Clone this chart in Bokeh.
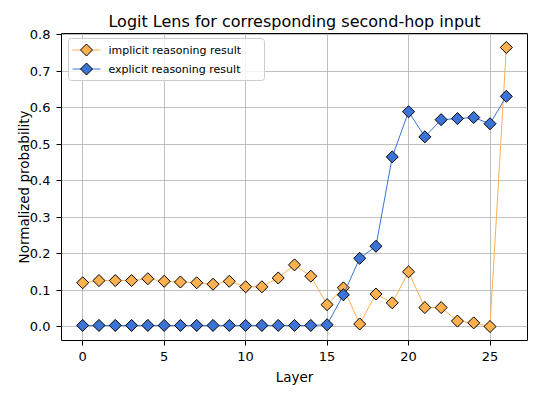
import math
from bokeh.plotting import figure
from bokeh.models import (FixedTicker, PrintfTickFormatter, Range1d, BoxAnnotation,
                          PolyAnnotation, Label)
from bokeh.embed import file_html
from bokeh.resources import INLINE

layers = list(range(27))
implicit = [0.120, 0.126, 0.126, 0.126, 0.131, 0.124, 0.122, 0.120, 0.116, 0.124,
            0.109, 0.109, 0.133, 0.169, 0.138, 0.060, 0.106, 0.007, 0.089, 0.065,
            0.150, 0.052, 0.052, 0.015, 0.010, 0.000, 0.765]
explicit = [0.003, 0.003, 0.003, 0.003, 0.003, 0.003, 0.003, 0.003, 0.003, 0.003,
            0.003, 0.003, 0.003, 0.003, 0.003, 0.005, 0.087, 0.187, 0.220, 0.465,
            0.589, 0.520, 0.567, 0.570, 0.573, 0.556, 0.631]
series_labels = ["implicit reasoning result", "explicit reasoning result"]
x_ticks = [0, 5, 10, 15, 20, 25]
y_ticks = [0.0, 0.1, 0.2, 0.3, 0.4, 0.5, 0.6, 0.7, 0.8]

ORANGE = "#ffb04f"
BLUE = "#3b73d6"
FONT = "DejaVu Sans"

p = figure(frame_width=466, frame_height=307, output_backend="svg", toolbar_location=None,
           x_range=Range1d(-1.3, 27.3), y_range=Range1d(-0.0383, 0.8033),
           min_border_left=61, min_border_right=9, min_border_top=33, min_border_bottom=10)

p.title.text = "Logit Lens for corresponding second-hop input"
p.title.align = "center"
p.title.text_font = FONT
p.title.text_font_size = "16px"
p.title.text_font_style = "normal"
p.title.text_color = "black"
p.title.offset = 0
p.title.standoff = 6

for ax in (p.xaxis, p.yaxis):
    ax.major_label_text_font = FONT
    ax.major_label_text_font_size = "13px"
    ax.major_label_text_color = "black"
    ax.axis_label_text_font = FONT
    ax.axis_label_text_font_size = "13.5px"
    ax.axis_label_text_font_style = "normal"
    ax.axis_label_text_color = "black"
    ax.axis_line_color = None
    ax.major_tick_line_color = "black"
    ax.major_tick_out = 5
    ax.major_tick_in = 0
    ax.minor_tick_line_color = None

p.xaxis.ticker = FixedTicker(ticks=x_ticks)
p.yaxis.ticker = FixedTicker(ticks=y_ticks)
p.yaxis.formatter = PrintfTickFormatter(format="%.1f")
p.xaxis.axis_label = "Layer"
p.yaxis.axis_label = "Normalized probability"
p.xaxis.major_label_standoff = 6
p.yaxis.major_label_standoff = 6
p.xaxis.axis_label_standoff = 5
p.yaxis.axis_label_standoff = -5

p.outline_line_color = "black"
p.outline_line_width = 1
p.grid.grid_line_color = "#b0b0b0"
p.grid.grid_line_width = 0.8

for vals, col in ((implicit, ORANGE), (explicit, BLUE)):
    p.line(layers, vals, line_color=col, line_width=1)
    p.scatter(layers, vals, marker="square", angle=math.pi / 4, size=8.5,
              fill_color=col, line_color="black", line_width=1)

# legend drawn with annotations in frame screen units (matplotlib-like diamond keys)
p.add_layout(BoxAnnotation(left=7, right=203, bottom=260, top=302,
                           left_units="screen", right_units="screen",
                           top_units="screen", bottom_units="screen",
                           fill_color="white", fill_alpha=0.8,
                           line_color="#cccccc", line_width=1, line_alpha=1,
                           border_radius=3))
row_y = [290.5, 271.5]
for (lab, col), cy in zip(zip(series_labels, (ORANGE, BLUE)), row_y):
    p.add_layout(PolyAnnotation(xs=[11, 39], ys=[cy, cy], xs_units="screen", ys_units="screen",
                                fill_alpha=0, line_color=col, line_width=1, line_alpha=1))
    p.add_layout(PolyAnnotation(xs=[19, 25, 31, 25], ys=[cy, cy + 6, cy, cy - 6],
                                xs_units="screen", ys_units="screen",
                                fill_color=col, fill_alpha=1, line_color="black",
                                line_width=1, line_alpha=1))
    p.add_layout(Label(x=47, y=cy, x_units="screen", y_units="screen", text=lab,
                       text_font=FONT, text_font_size="11px", text_color="black",
                       text_baseline="middle", text_align="left"))

open("out.html", "w").write(file_html(p, INLINE))
